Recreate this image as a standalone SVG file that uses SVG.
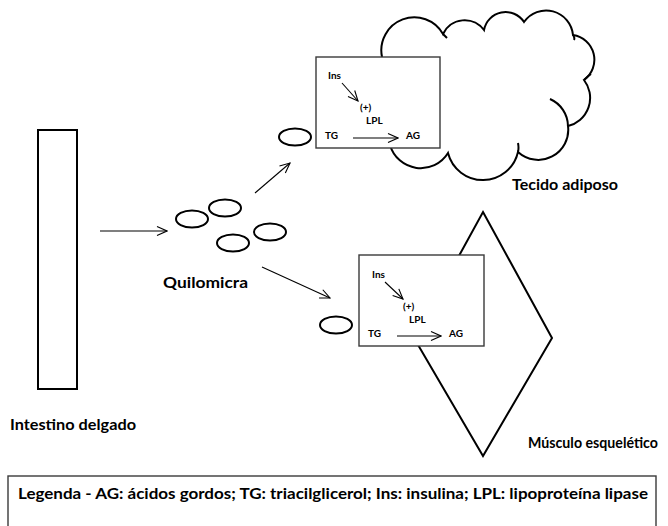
<svg xmlns="http://www.w3.org/2000/svg" width="668" height="526" viewBox="0 0 668 526">
  <defs>
    <marker id="head" viewBox="0 0 12 12" refX="11" refY="6" markerWidth="12" markerHeight="12" markerUnits="userSpaceOnUse" orient="auto">
      <path d="M1,1.5 L11,6 L1,10.5" fill="none" stroke="#000" stroke-width="1.1"/>
    </marker>
    <style>
      text { font-family: Lato, "Liberation Sans", sans-serif; font-weight: bold; fill: #000; }
      .lbl { font-size: 15.5px; }
      .sm { font-size: 10px; }
      .shape { fill: #fff; stroke: #000; stroke-width: 2; }
      .box { fill: #fff; stroke: #3a3a3a; stroke-width: 1.4; }
      .conn { fill: none; stroke: #000; stroke-width: 1.1; marker-end: url(#head); }
    </style>
  </defs>
  <rect width="668" height="526" fill="#fff"/>

  <!-- small intestine -->
  <g id="intestino">
    <rect class="shape" x="38" y="130" width="39" height="259"/>
    <text class="lbl" x="10" y="430" textLength="126" lengthAdjust="spacingAndGlyphs">Intestino delgado</text>
  </g>

  <!-- chylomicrons -->
  <g id="quilomicra">
    <ellipse class="shape" cx="192" cy="219" rx="16" ry="8.5"/>
    <ellipse class="shape" cx="225" cy="208" rx="16" ry="8.5"/>
    <ellipse class="shape" cx="233" cy="243" rx="16" ry="8.5"/>
    <ellipse class="shape" cx="270" cy="232" rx="16" ry="8.5"/>
    <text class="lbl" x="163" y="288" textLength="85" lengthAdjust="spacingAndGlyphs">Quilomicra</text>
  </g>

  <!-- adipose tissue (cloud) -->
  <g id="tecido-adiposo">
    <path class="shape" d="M382,57 A33,33 0 0 1 443,34 A24,24 0 0 1 484,30 A22,22 0 0 1 524,22 A27,27 0 0 1 573,35 A25,25 0 0 1 584,80 A29,29 0 0 1 568,126 A30,30 0 0 1 518,152 A36,36 0 0 1 448,153 A32,32 0 0 1 390,145 Z"/>
    <path d="M550,99 A30,30 0 0 1 568,126 M518,143 Q519,148 518,152 M443,34 Q445,36 447,38 M573,35 Q575,38 574,40 M584,80 Q588,76 591,74" fill="none" stroke="#000" stroke-width="2"/>
    <text class="lbl" x="512" y="190" textLength="106" lengthAdjust="spacingAndGlyphs">Tecido adiposo</text>
  </g>

  <!-- skeletal muscle (diamond) -->
  <g id="musculo">
    <polygon class="shape" points="483,212 552,338 483,456 414,338"/>
    <text x="528" y="448" font-size="15" textLength="130" lengthAdjust="spacingAndGlyphs">Músculo esquelético</text>
  </g>

  <!-- chylomicron near adipose tissue -->
  <g id="quilomicron-adiposo">
    <ellipse class="shape" cx="295" cy="137" rx="16" ry="8.5"/>
  </g>

  <!-- chylomicron near muscle -->
  <g id="quilomicron-musculo">
    <ellipse class="shape" cx="336" cy="325" rx="16" ry="8.5"/>
  </g>

  <!-- lipolysis box in adipose tissue -->
  <g id="lpl-adiposo">
    <rect class="box" x="316" y="57" width="124" height="91"/>
    <text class="sm" x="328" y="79">Ins</text>
    <text class="sm" x="360" y="111">(+)</text>
    <text class="sm" x="366" y="124">LPL</text>
    <text class="sm" x="325" y="139">TG</text>
    <text class="sm" x="406" y="139">AG</text>
    <line class="conn" x1="342" y1="83" x2="358" y2="101"/>
    <line class="conn" x1="353" y1="138" x2="398" y2="138"/>
  </g>

  <!-- lipolysis box in muscle -->
  <g id="lpl-musculo">
    <rect class="box" x="359" y="255" width="125" height="91"/>
    <text class="sm" x="372" y="278">Ins</text>
    <text class="sm" x="403" y="310">(+)</text>
    <text class="sm" x="409" y="323">LPL</text>
    <text class="sm" x="368" y="337">TG</text>
    <text class="sm" x="449" y="337">AG</text>
    <line class="conn" x1="385" y1="282" x2="403" y2="299"/>
    <line class="conn" x1="397" y1="336" x2="441" y2="336"/>
  </g>

  <!-- transport connectors -->
  <g id="conectores">
    <line class="conn" x1="100" y1="231" x2="167" y2="231"/>
    <line class="conn" x1="255" y1="193" x2="290" y2="163"/>
    <line class="conn" x1="262" y1="267" x2="330" y2="298"/>
  </g>

  <!-- legend -->
  <g id="legenda">
    <rect x="8" y="476" width="648" height="60" fill="#fff" stroke="#3a3a3a" stroke-width="1.4"/>
    <text x="18" y="499" font-size="14.5" textLength="630" lengthAdjust="spacingAndGlyphs">Legenda - AG: ácidos gordos; TG: triacilglicerol; Ins: insulina; LPL: lipoproteína lipase</text>
  </g>
</svg>
